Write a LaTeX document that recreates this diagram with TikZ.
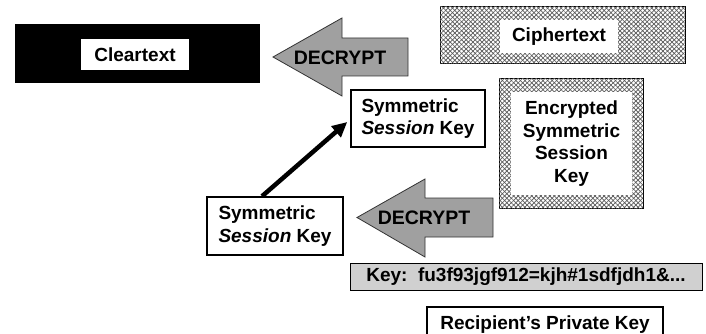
\documentclass[tikz,border=0pt]{standalone}
\usepackage{fontspec}
\setmainfont{Liberation Sans}
\usetikzlibrary{patterns.meta,arrows.meta}
\definecolor{arrowgray}{HTML}{A0A0A0}
\definecolor{keygray}{HTML}{D0D0D0}
\definecolor{hatchgray}{HTML}{5A5A5A}
\begin{document}
\begin{tikzpicture}[x=1pt,y=-1pt,
  every node/.style={font=\fontsize{19}{22.5}\selectfont\bfseries, align=center, inner sep=0pt},
  box/.style={draw=black,line width=1.5pt,fill=white},
  whitebox/.style={fill=white},
  hatchbox/.style={draw=black,line width=1pt,
     postaction={pattern={Lines[angle=45,distance=3.2pt,line width=0.7pt]},pattern color=hatchgray},
     postaction={pattern={Lines[angle=-45,distance=3.2pt,line width=0.7pt]},pattern color=hatchgray}},
  bigarrow/.style={draw=black!80,line width=0.8pt,fill=arrowgray,line join=miter},
  arrowtext/.style={font=\fontsize{19.5}{23}\selectfont\bfseries}]
\clip (0,0) rectangle (706,334);
\fill[white] (0,0) rectangle (706,334);

% Cleartext
\node[fill=black, minimum width=245pt, minimum height=59pt] (clearbg) at (137.5,53.5) {};
\node[whitebox, minimum width=108pt, minimum height=31pt] (clear) at (135,54.5) {Cleartext};

% Ciphertext
\node[hatchbox, minimum width=245pt, minimum height=57pt] (cipherbg) at (562.5,35.5) {};
\node[whitebox, minimum width=118pt, minimum height=33pt] (cipher) at (559,36.5) {Ciphertext};

% Encrypted key
\node[hatchbox, minimum width=144pt, minimum height=130pt] (enckbg) at (571,143.5) {};
\node[whitebox, minimum width=121pt, minimum height=103pt] (enck) at (571.5,143.5) {Encrypted\\Symmetric\\Session\\Key};

% Symmetric session keys
\node[box, minimum width=134pt, minimum height=57pt, align=left] (kb1) at (418,118.5) {Symmetric\\\textit{Session} Key};
\node[box, minimum width=136pt, minimum height=58pt, align=left] (kb2) at (275,226) {Symmetric\\\textit{Session} Key};

% DECRYPT arrows
\draw[bigarrow] (273,57) -- (342,18) -- (342,38) -- (408,38) -- (408,76) -- (342,76) -- (342,96) -- cycle;
\node[arrowtext] (d1) at (340,58) {DECRYPT};
\draw[bigarrow] (357,217.5) -- (425,179) -- (425,198) -- (493,198) -- (493,237) -- (425,237) -- (425,257) -- cycle;
\node[arrowtext] (d2) at (424,218) {DECRYPT};

% Key
\node[draw=black, line width=1pt, fill=keygray, minimum width=352pt, minimum height=27pt] (key) at (526,276.5) {Key:\ \ fu3f93jgf912=kjh\#1sdfjdh1\&...};
\node[box, minimum width=236pt, minimum height=36pt] (priv) at (545,325) {Recipient’s Private Key};

% connector
\draw[line width=4.5pt, -{Triangle[length=15pt,width=14pt]}] ([xshift=-13pt]kb2.north) -- ([xshift=-3pt,yshift=-3.5pt]kb1.west);
\end{tikzpicture}
\end{document}
